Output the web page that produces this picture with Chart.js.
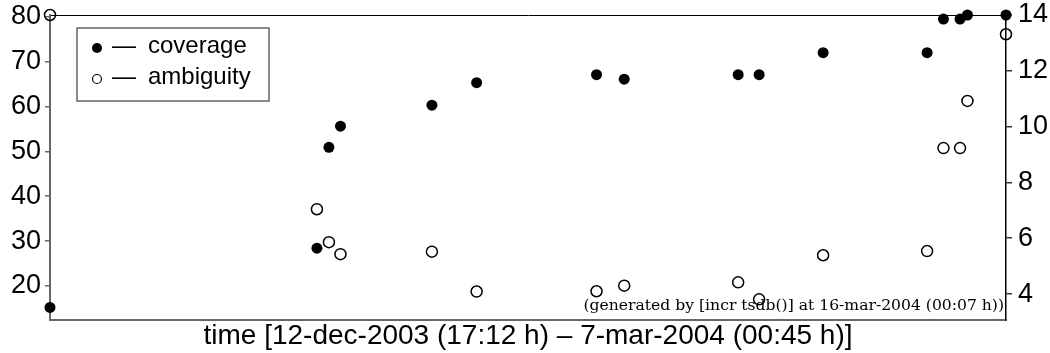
<!DOCTYPE html>
<html>
<head>
<meta charset="utf-8">
<script src="https://cdn.jsdelivr.net/npm/chart.js@4.4.1/dist/chart.umd.min.js"></script>
<style>
html,body{margin:0;padding:0;background:#fff;}
#wrap{width:1050px;height:353px;position:relative;}
</style>
</head>
<body>
<div id="wrap"><canvas id="chart"></canvas></div>
<script>

// days since 12-dec-2003 (17:12 h)
const days = [0, 23.82, 24.89, 25.92, 34.08, 38.07, 48.77, 51.24, 61.41, 63.28, 68.99, 78.27, 79.73, 81.21, 81.87, 85.31];

const coverage = [15.2, 28.4, 50.9, 55.6, 60.3, 65.3, 67.1, 66.1, 67.1, 67.1, 72.0, 72.0, 79.5, 79.5, 80.4, 80.4];

const ambiguity = [14.0, 7.04, 5.86, 5.43, 5.52, 4.09, 4.10, 4.30, 4.42, 3.81, 5.39, 5.54, 9.23, 9.23, 10.92, 13.31];

const leftTicks = [20, 30, 40, 50, 60, 70, 80];
const rightTicks = [4, 6, 8, 10, 12, 14];

const timeLabel = "time [12-dec-2003 (17:12 h) \u2013 7-mar-2004 (00:45 h)]";
const footNote = "(generated by [incr tsdb()] at 16-mar-2004 (00:07 h))";

const sansFont = "'Liberation Sans', Arial, sans-serif";

Chart.defaults.font.family = sansFont;
Chart.defaults.color = "#000";

function toPoints(values){
    return values.map((v, i) => ({ x: days[i], y: v }));
}

// keep the plot frame fixed, no extra room for overflowing tick labels
function noPad(s){
    s.paddingTop = 0;
    s.paddingBottom = 0;
}

// legend box in the upper left corner + footnote at the lower right
const boxLegend = {

    id: "boxLegend",

    afterDraw(chart){

        const ctx = chart.ctx;
        const area = chart.chartArea;

        const x0 = area.left + 27;
        const y0 = area.top + 13;

        ctx.save();

        ctx.strokeStyle = "#666";
        ctx.lineWidth = 1.5;
        ctx.strokeRect(x0, y0, 192, 73);

        ctx.font = "24px " + sansFont;
        ctx.fillStyle = "#000";
        ctx.strokeStyle = "#000";
        ctx.textAlign = "left";
        ctx.textBaseline = "alphabetic";

        chart.data.datasets.forEach((ds, i) => {

            const cy = y0 + 20 + i * 31;

            ctx.beginPath();
            ctx.arc(x0 + 20, cy, ds.filled ? 5 : 4.5, 0, Math.PI * 2);

            if(ds.filled){
                ctx.fill();
            }else{
                ctx.lineWidth = 1.2;
                ctx.stroke();
            }

            ctx.fillText("\u2014", x0 + 35, cy + 5);
            ctx.fillText(ds.label, x0 + 71, cy + 5);

        });

        ctx.font = "15.6px 'DejaVu Serif', serif";
        ctx.textAlign = "right";
        ctx.fillText(footNote, area.right - 2, area.bottom - 10);

        ctx.restore();

    }

};

new Chart(document.getElementById("chart"), {

    type: "scatter",

    data: {

        datasets: [

            {
                label: "coverage",
                filled: true,
                data: toPoints(coverage),
                yAxisID: "y",
                pointRadius: 5.5,
                backgroundColor: "#000",
                borderColor: "#000",
                borderWidth: 0,
                clip: false
            },

            {
                label: "ambiguity",
                filled: false,
                data: toPoints(ambiguity),
                yAxisID: "y1",
                pointRadius: 5.5,
                backgroundColor: "rgba(0,0,0,0)",
                borderColor: "#000",
                borderWidth: 1.5,
                clip: false
            }

        ]

    },

    options: {

        responsive: true,
        maintainAspectRatio: false,
        animation: false,
        events: [],

        layout: { padding: 0 },

        plugins: {
            legend: { display: false },
            tooltip: { enabled: false }
        },

        scales: {

            x: {
                type: "linear",
                position: "bottom",
                min: days[0],
                max: days[days.length - 1],
                ticks: { display: false },
                grid: { display: false },
                border: { color: "#666", width: 2 },
                title: {
                    display: true,
                    text: timeLabel,
                    color: "#000",
                    font: { size: 28 },
                    padding: 0
                },
                afterFit(s){ s.height = 33; }
            },

            x2: {
                type: "linear",
                position: "top",
                min: days[0],
                max: days[days.length - 1],
                ticks: { display: false },
                grid: { display: false },
                border: { color: "#000", width: 1 },
                afterFit(s){ s.height = 15; }
            },

            y: {
                position: "left",
                min: 12.4,
                max: 80.4,
                afterBuildTicks(s){ s.ticks = leftTicks.map(v => ({ value: v })); },
                ticks: { font: { size: 27 }, color: "#000", padding: 4 },
                grid: {
                    display: true,
                    drawOnChartArea: false,
                    drawTicks: true,
                    tickLength: 5,
                    color: "#666",
                    lineWidth: 1.5
                },
                border: { color: "#666", width: 2 },
                afterFit(s){ s.width = 50; noPad(s); }
            },

            y1: {
                position: "right",
                min: 3.07,
                max: 14.0,
                afterBuildTicks(s){ s.ticks = rightTicks.map(v => ({ value: v })); },
                ticks: { font: { size: 27 }, color: "#000", padding: 6 },
                grid: {
                    display: true,
                    drawOnChartArea: false,
                    drawTicks: true,
                    tickLength: 6,
                    color: "#333",
                    lineWidth: 1.5
                },
                border: { color: "#000", width: 1.5 },
                afterFit(s){ s.width = 44; noPad(s); }
            }

        }

    },

    plugins: [boxLegend]

});

</script>
</body>
</html>
